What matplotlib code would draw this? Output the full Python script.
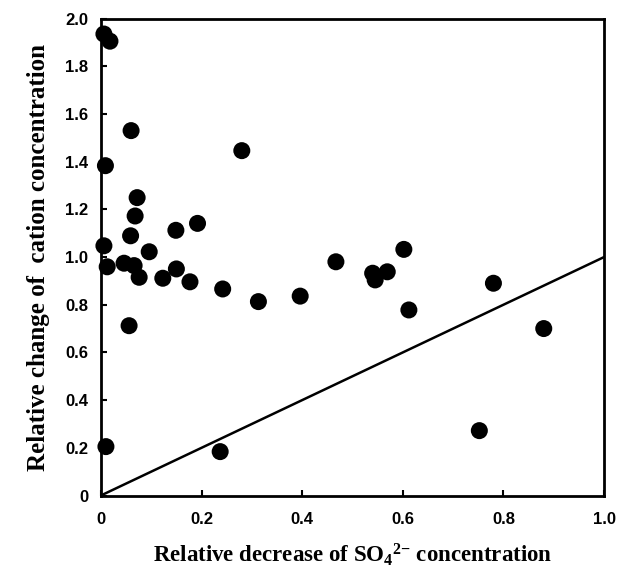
import numpy as np
import matplotlib
matplotlib.use("Agg")
import matplotlib.pyplot as plt

plt.rcParams['mathtext.fontset'] = 'custom'
plt.rcParams['mathtext.rm'] = 'Liberation Serif:bold'
plt.rcParams['mathtext.it'] = 'Liberation Serif:bold'
plt.rcParams['mathtext.bf'] = 'Liberation Serif:bold'

# relative decrease of SO4(2-) vs relative change of cation concentration
so4_decrease = [0.006, 0.018, 0.060, 0.009, 0.072, 0.068, 0.059, 0.006, 0.149,
                0.192, 0.096, 0.0125, 0.046, 0.066, 0.076, 0.123, 0.150, 0.177,
                0.280, 0.467, 0.242, 0.313, 0.396, 0.602, 0.540, 0.545, 0.569,
                0.612, 0.780, 0.752, 0.056, 0.010, 0.237, 0.880]
cation_change = [1.935, 1.905, 1.53, 1.383, 1.249, 1.172, 1.089, 1.047, 1.112,
                 1.141, 1.022, 0.959, 0.974, 0.964, 0.915, 0.911, 0.950, 0.896,
                 1.446, 0.980, 0.866, 0.813, 0.836, 1.032, 0.932, 0.904, 0.938,
                 0.778, 0.890, 0.272, 0.712, 0.205, 0.184, 0.700]
line_x = [0.0, 1.0]
line_y = [0.0, 1.0]

xticks = [0, 0.2, 0.4, 0.6, 0.8, 1.0]
xticklabels = ['0', '0.2', '0.4', '0.6', '0.8', '1.0']
yticks = [0, 0.2, 0.4, 0.6, 0.8, 1.0, 1.2, 1.4, 1.6, 1.8, 2.0]
yticklabels = ['0', '0.2', '0.4', '0.6', '0.8', '1.0', '1.2', '1.4', '1.6', '1.8', '2.0']

fig = plt.figure(figsize=(6.19, 5.70), dpi=100)
ax = fig.add_axes([0.163, 0.1307, 0.813, 0.8368])

ax.plot(line_x, line_y, color='black', lw=1.8, zorder=2)
ax.scatter(so4_decrease, cation_change, s=150, c='black', edgecolors='none',
           zorder=3, clip_on=False)

ax.set_xlim(0, 1.0); ax.set_ylim(0, 2.0)
ax.set_xticks(xticks); ax.set_xticklabels(xticklabels)
ax.set_yticks(yticks); ax.set_yticklabels(yticklabels)
for lab in ax.get_xticklabels() + ax.get_yticklabels():
    lab.set_fontfamily('Liberation Sans')
    lab.set_fontweight('bold')
    lab.set_fontsize(12)
ax.tick_params(direction='in', length=4, width=1.5, color='black')
ax.tick_params(axis='x', pad=12)
ax.tick_params(axis='y', pad=9)
for s in ax.spines.values():
    s.set_linewidth(2)
    s.set_color('black')

ax.set_xlabel(r'Relative decrease of SO$_\mathrm{4}$$^{\mathrm{2}{-}}$ concentration',
              fontfamily='Liberation Serif', fontweight='bold', fontsize=16.5, labelpad=10)
ax.set_ylabel('Relative change of  cation concentration',
              fontfamily='Liberation Serif', fontweight='bold', fontsize=18, labelpad=11)

fig.savefig('out.png', dpi=100)
